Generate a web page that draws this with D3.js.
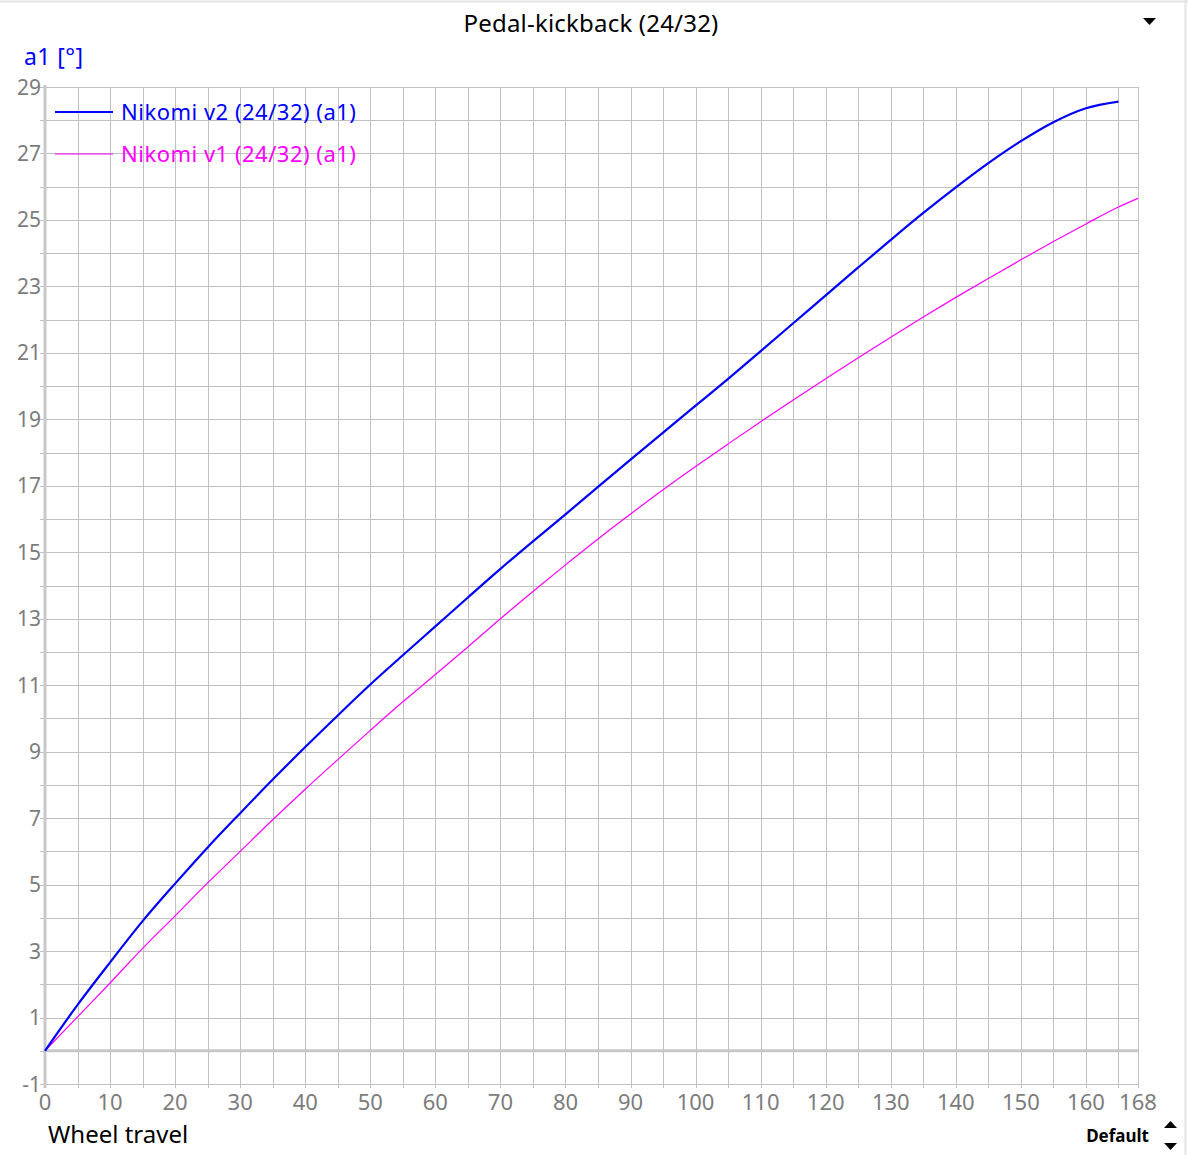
<!DOCTYPE html>
<html>
<head>
<meta charset="utf-8">
<script src="https://cdn.jsdelivr.net/npm/d3@7"></script>
<style>
  body { margin: 0; background: #fff; }
  svg { display: block; font-family: "Noto Sans", "Open Sans", sans-serif; }
</style>
</head>
<body>
<svg class="chart" width="1188" height="1155"></svg>
<script>
// wheel travel samples (mm)
var travelV2 = [0,5,10,15,20,25,30,35,40,45,50,55,60,65,70,75,80,85,90,95,100,105,110,115,120,125,130,135,140,145,150,155,160,165];
var travelV1 = [0,5,10,15,20,25,30,35,40,45,50,55,60,65,70,75,80,85,90,95,100,105,110,115,120,125,130,135,140,145,150,155,160,165,168];

// a1 [deg]
var a1V2 = [0,1.38,2.66,3.90,5.03,6.12,7.15,8.16,9.14,10.09,11.02,11.90,12.77,13.64,14.50,15.33,16.14,16.97,17.79,18.60,19.41,20.22,21.05,21.89,22.73,23.57,24.40,25.21,25.98,26.71,27.37,27.94,28.36,28.56];
var a1V1 = [0,1.02,2.04,3.08,4.06,5.05,6.00,6.95,7.87,8.76,9.64,10.50,11.32,12.15,13.00,13.82,14.62,15.40,16.15,16.88,17.58,18.26,18.93,19.58,20.22,20.85,21.47,22.08,22.67,23.24,23.80,24.35,24.88,25.39,25.65];

var seriesNames = ["Nikomi v2 (24/32) (a1)", "Nikomi v1 (24/32) (a1)"];
var seriesColors = ["#0000ff", "#ff00ff"];

var xTicks = [0,10,20,30,40,50,60,70,80,90,100,110,120,130,140,150,160,168];
var yTicks = [-1,1,3,5,7,9,11,13,15,17,19,21,23,25,27,29];

var plot = {left: 45, right: 1138, top: 87, bottom: 1084};

var x = d3.scaleLinear().domain([0, 168]).range([plot.left, plot.right]);
var y = d3.scaleLinear().domain([-1, 29]).range([plot.bottom, plot.top]);

const svg = d3.select('.chart');

// outer frame (top and right edges only visible)
svg.append('line').attr('x1', 0).attr('x2', 1188).attr('y1', 1.5).attr('y2', 1.5)
  .style('stroke', '#e3e3e3').style('stroke-width', 2);
svg.append('line').attr('x1', 1185.5).attr('x2', 1185.5).attr('y1', 0).attr('y2', 1155)
  .style('stroke', '#e3e3e3').style('stroke-width', 2);

// title + dropdown arrow
svg.append('text')
  .attr('x', 591).attr('y', 32)
  .attr('text-anchor', 'middle')
  .style('font-size', '24px')
  .style('letter-spacing', '0.2px')
  .style('fill', '#000')
  .text('Pedal-kickback (24/32)');
svg.append('path')
  .attr('d', 'M1143,18 L1156,18 L1149.5,25 Z')
  .style('fill', '#000');

// y axis title
svg.append('text')
  .attr('x', 24).attr('y', 65)
  .style('font-size', '23px')
  .style('letter-spacing', '0.4px')
  .style('fill', '#0000ff')
  .text('a1 [°]');

// grid: horizontal every 1, vertical every 5
const gridY = d3.axisLeft(y)
  .tickValues(d3.range(-1, 30, 1))
  .tickSize(-(plot.right - 40))
  .tickFormat('');
svg.append('g')
  .attr('class', 'grid-y')
  .attr('transform', 'translate(40,0)')
  .call(gridY)
  .call(g => g.select('.domain').remove())
  .call(g => g.selectAll('line').style('stroke', '#c0c0c0').attr('shape-rendering', 'crispEdges'));

const gridX = d3.axisBottom(x)
  .tickValues(d3.range(0, 166, 5).concat([168]))
  .tickSize(-(1088 - plot.top))
  .tickFormat('');
svg.append('g')
  .attr('class', 'grid-x')
  .attr('transform', 'translate(0,1088)')
  .call(gridX)
  .call(g => g.select('.domain').remove())
  .call(g => g.selectAll('line').style('stroke', '#c0c0c0').attr('shape-rendering', 'crispEdges'));

// zero line and left axis line
svg.append('line')
  .attr('x1', plot.left).attr('x2', plot.right)
  .attr('y1', y(0)).attr('y2', y(0))
  .style('stroke', '#c8c8c8').style('stroke-width', 3);
svg.append('line')
  .attr('x1', plot.left).attr('x2', plot.left)
  .attr('y1', plot.top - 2).attr('y2', 1088)
  .style('stroke', '#c8c8c8').style('stroke-width', 3);

// tick labels
svg.append('g')
  .attr('class', 'y-labels')
  .selectAll('text')
  .data(yTicks)
  .join('text')
  .attr('x', 41)
  .attr('y', d => y(d))
  .attr('dy', '0.36em')
  .attr('text-anchor', 'end')
  .style('font-size', '21px')
  .style('fill', '#7c7c7c')
  .text(d => d);

svg.append('g')
  .attr('class', 'x-labels')
  .selectAll('text')
  .data(xTicks)
  .join('text')
  .attr('x', d => x(d))
  .attr('y', 1102)
  .attr('dy', '0.36em')
  .attr('text-anchor', 'middle')
  .style('font-size', '22px')
  .style('fill', '#7c7c7c')
  .text(d => d);

// x axis title
svg.append('text')
  .attr('x', 48).attr('y', 1143)
  .style('font-size', '24px')
  .style('fill', '#000')
  .text('Wheel travel');

// lines
const line = d3.line()
  .x(d => x(d[0]))
  .y(d => y(d[1]))
  .curve(d3.curveMonotoneX);

svg.append('path')
  .datum(d3.zip(travelV1, a1V1))
  .attr('d', line)
  .style('fill', 'none')
  .style('stroke', seriesColors[1])
  .style('stroke-width', 1.2);

svg.append('path')
  .datum(d3.zip(travelV2, a1V2))
  .attr('d', line)
  .style('fill', 'none')
  .style('stroke', seriesColors[0])
  .style('stroke-width', 2.2);

// legend
const legend = svg.append('g').attr('class', 'legend')
  .selectAll('g')
  .data(seriesNames)
  .join('g')
  .attr('transform', (d, i) => 'translate(55,' + (112 + 42 * i) + ')');
legend.append('line')
  .attr('x1', 0).attr('x2', 58)
  .style('stroke', (d, i) => seriesColors[i])
  .style('stroke-width', (d, i) => i == 0 ? 2.2 : 1.2);
legend.append('text')
  .attr('x', 66).attr('dy', '0.36em')
  .style('font-size', '22px')
  .style('letter-spacing', '0.5px')
  .style('fill', (d, i) => seriesColors[i])
  .text(d => d);

// "Default" + spinner arrows
svg.append('text')
  .attr('x', 1149).attr('y', 1142)
  .attr('text-anchor', 'end')
  .style('font-size', '17px')
  .style('font-weight', 'bold')
  .style('fill', '#000')
  .text('Default');
svg.append('path').attr('d', 'M1164,1128 L1177,1128 L1170.5,1121 Z').style('fill', '#000');
svg.append('path').attr('d', 'M1164,1143 L1177,1143 L1170.5,1150 Z').style('fill', '#000');
</script>
</body>
</html>
